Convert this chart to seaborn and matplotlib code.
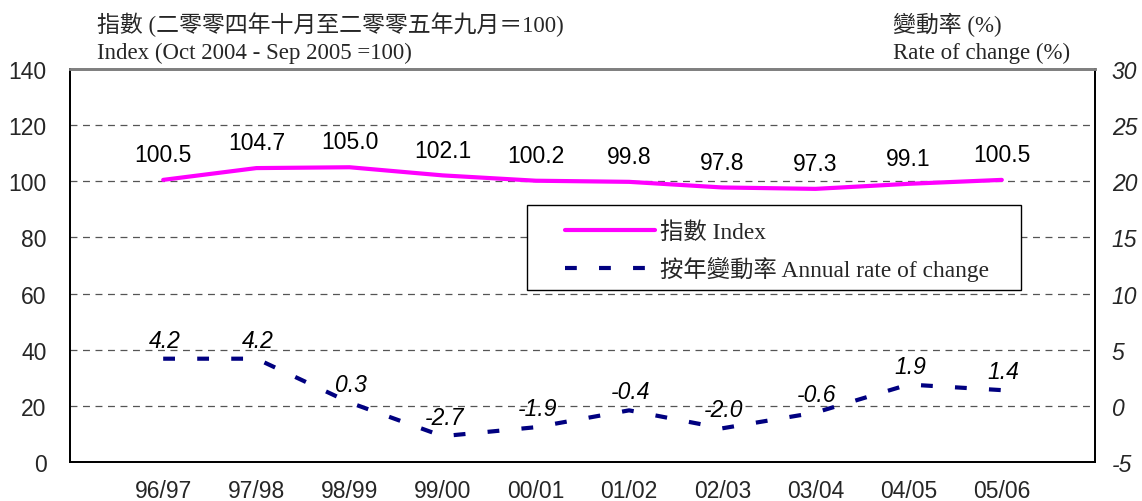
import matplotlib
matplotlib.use("Agg")
import matplotlib.pyplot as plt
import seaborn as sns
import pandas as pd
from matplotlib.lines import Line2D
from matplotlib.patches import Rectangle

categories = ["96/97", "97/98", "98/99", "99/00", "00/01", "01/02", "02/03", "03/04", "04/05", "05/06"]
index_values = [100.5, 104.7, 105.0, 102.1, 100.2, 99.8, 97.8, 97.3, 99.1, 100.5]
rate_values = [4.2, 4.2, 0.3, -2.7, -1.9, -0.4, -2.0, -0.6, 1.9, 1.4]
left_ticks = [0, 20, 40, 60, 80, 100, 120, 140]
right_ticks = [-5, 0, 5, 10, 15, 20, 25, 30]

sns.set_theme(style="white")
plt.rcParams["font.family"] = ["Liberation Sans", "Noto Sans CJK TC"]
plt.rcParams["lines.scale_dashes"] = False
plt.rcParams["axes.unicode_minus"] = False

FS = 16.5
W, H = 1142, 502

df = pd.DataFrame({"pos": range(len(categories)), "cat": categories,
                   "index": index_values, "rate": rate_values})

fig = plt.figure(figsize=(11.42, 5.02), dpi=100)
ax = fig.add_axes([70/W, 1-463/H, 1025/W, 393/H])
ax2 = ax.twinx()

sns.lineplot(data=df, x="pos", y="index", ax=ax, color="#FF00FF", linewidth=3, legend=False)
sns.lineplot(data=df, x="pos", y="rate", ax=ax2, color="#000080", linewidth=3,
             linestyle=(0, (8.5, 16)), legend=False)

ax.set_xlim(-1, 10)
ax.set_ylim(0, 140)
ax2.set_ylim(-5, 30)
ax.set_yticks(left_ticks)
ax2.set_yticks(right_ticks)
ax.set_xticks(range(len(categories)))
ax.set_xticklabels(categories)
ax.set_xlabel("")
ax.set_ylabel("")
ax2.set_ylabel("")

for v in left_ticks[1:-1]:
    ax.axhline(v, color="#555555", linestyle=(0, (5, 4)), linewidth=0.9, zorder=0)

ax.tick_params(axis="x", direction="in", length=8, width=1, color="black", pad=12, labelsize=FS)
ax.tick_params(axis="y", length=0, pad=17, labelsize=FS)
ax2.tick_params(axis="y", length=0, pad=12, labelsize=FS)
for t in ax2.get_yticklabels():
    t.set_fontstyle("italic")

for a in (ax, ax2):
    for s in a.spines.values():
        s.set_color("black")
        s.set_linewidth(1.3)
    a.spines["top"].set_color("#808080")
    a.spines["top"].set_linewidth(2)

# data labels
for i, v in enumerate(index_values):
    ax.annotate(f"{v:.1f}", (i, v), xytext=(0, 10), textcoords="offset points",
                ha="center", va="bottom", fontsize=FS, color="black")
for i, v in enumerate(rate_values):
    ax2.annotate(f"{v:.1f}", (i, v), xytext=(1, 5), textcoords="offset points",
                 ha="center", va="bottom", fontsize=FS, color="black", fontstyle="italic")

serif = ["Liberation Serif", "Noto Sans CJK TC"]
TS = 16.5
fig.text(97/W, 1-25/H, "指數 (二零零四年十月至二零零五年九月＝100)", family=serif,
         fontsize=TS, ha="left", va="center")
fig.text(97/W, 1-53/H, "Index (Oct 2004 - Sep 2005 =100)", family=serif,
         fontsize=TS, ha="left", va="center")
fig.text(893/W, 1-25/H, "變動率 (%)", family=serif, fontsize=TS, ha="left", va="center")
fig.text(893/W, 1-53/H, "Rate of change (%)", family=serif, fontsize=TS, ha="left", va="center")

# legend frame
frame = Rectangle((527/W, 1-291/H), 494/W, 85/H, transform=fig.transFigure,
                  facecolor="white", edgecolor="black", linewidth=1, zorder=4)
fig.patches.append(frame)

LS = 16.8
handles = [Line2D([], [], color="#FF00FF", linewidth=3),
           Line2D([], [], color="#000080", linewidth=3, linestyle=(0, (8.5, 16)))]
leg = fig.legend(handles, ["指數 Index", "按年變動率 Annual rate of change"],
                 loc="center left", bbox_to_anchor=(565/W, 1-252/H),
                 frameon=False, prop={"family": serif, "size": LS},
                 handlelength=3.85, handletextpad=0.2, borderpad=0,
                 labelspacing=0.55, borderaxespad=0)
leg.set_zorder(5)

fig.savefig("out.png", dpi=100)
